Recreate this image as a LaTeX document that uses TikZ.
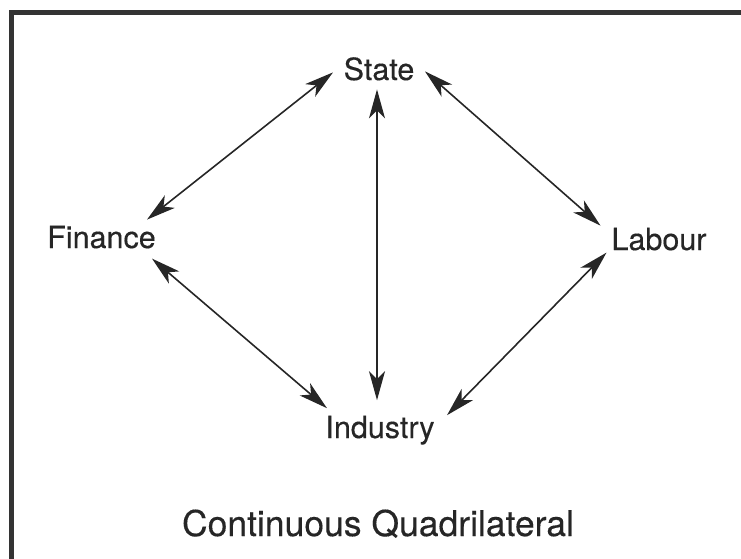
\documentclass[tikz,border=0pt]{standalone}
\usepackage{fontspec}
\setmainfont{TeX Gyre Heros}
\usetikzlibrary{arrows.meta}
\definecolor{ink}{HTML}{262626}
\begin{document}
\begin{tikzpicture}[x=1pt,y=-1pt,
  lab/.style={inner sep=0pt, text=ink, font=\fontsize{30.5}{34}\selectfont\addfontfeature{FakeBold=0.3}, anchor=base},
  ttl/.style={inner sep=0pt, text=ink, font=\fontsize{35.5}{40}\selectfont\addfontfeature{FakeBold=0.3}, anchor=base},
  link/.style={draw=ink, line width=1.6pt, {Stealth[length=29pt,width=16pt,inset=8pt]}-{Stealth[length=29pt,width=16pt,inset=8pt]}},
  frame/.style={draw=black!80, line width=5pt, line join=miter}]
\useasboundingbox (0,0) rectangle (741,558);

% frame along the top and left edges
\draw[frame] (11,560) -- (11,12) -- (745,12);

% the four corners of the quadrilateral
\node[lab] (state) at (379,80) {State};
\node[lab] (fin) at (101.5,248) {Finance};
\node[lab] (lab) at (659,250) {Labour};
\node[lab] (ind) at (380,438) {Industry};

% caption
\node[ttl] (cap) at (378,536) {Continuous Quadrilateral};

% two-way links
\draw[link] ([shift={(45.5,-17.5)}]fin.center) -- ([shift={(-46,3.5)}]state.center);
\draw[link] ([shift={(46,2.5)}]state.center) -- ([shift={(-58.5,-13.5)}]lab.center);
\draw[link] ([shift={(-2,20.5)}]state.center) -- ([shift={(-3,-30)}]ind.center);
\draw[link] ([shift={(50.5,21.5)}]fin.center) -- ([shift={(-53,-22)}]ind.center);
\draw[link] ([shift={(-52.5,13.5)}]lab.center) -- ([shift={(67,-15)}]ind.center);
\end{tikzpicture}
\end{document}
